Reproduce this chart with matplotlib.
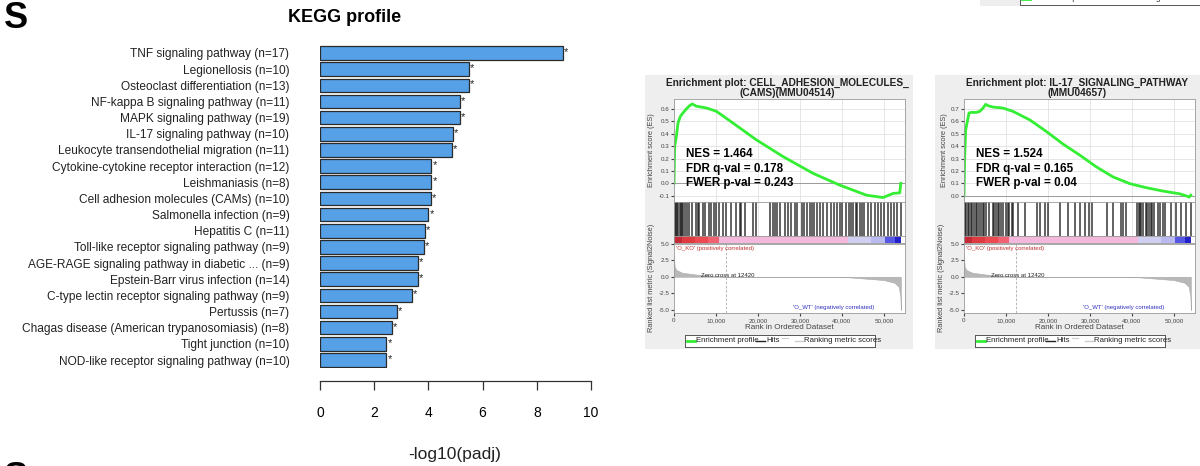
"""
KEGG profile bar chart plus two GSEA enrichment plots (panel S).
"""

import matplotlib
matplotlib.use('Agg')
import matplotlib.pyplot as plt
from matplotlib.patches import Rectangle

W, H = 1200, 466

# ---- KEGG profile data ----
pathways = [
    'TNF signaling pathway (n=17)',
    'Legionellosis (n=10)',
    'Osteoclast differentiation (n=13)',
    'NF-kappa B signaling pathway (n=11)',
    'MAPK signaling pathway (n=19)',
    'IL-17 signaling pathway (n=10)',
    'Leukocyte transendothelial migration (n=11)',
    'Cytokine-cytokine receptor interaction (n=12)',
    'Leishmaniasis (n=8)',
    'Cell adhesion molecules (CAMs) (n=10)',
    'Salmonella infection (n=9)',
    'Hepatitis C (n=11)',
    'Toll-like receptor signaling pathway (n=9)',
    'AGE-RAGE signaling pathway in diabetic ... (n=9)',
    'Epstein-Barr virus infection (n=14)',
    'C-type lectin receptor signaling pathway (n=9)',
    'Pertussis (n=7)',
    'Chagas disease (American trypanosomiasis) (n=8)',
    'Tight junction (n=10)',
    'NOD-like receptor signaling pathway (n=10)',
]
neglog_padj = [8.95, 5.49, 5.49, 5.15, 5.15, 4.90, 4.86, 4.11, 4.11, 4.08,
               4.00, 3.87, 3.84, 3.62, 3.60, 3.38, 2.84, 2.66, 2.45, 2.45]
kegg_ticks = [0, 2, 4, 6, 8, 10]

# ---- GSEA data: CAMs ----
cams_rank = [0, 160, 560, 950, 1510, 2140, 2940, 3730, 4370, 5320, 7700, 10080,
             14050, 19610, 25960, 33110, 39460, 45810, 49780, 52170, 53750, 54000]
cams_es = [0.0, 0.297, 0.378, 0.486, 0.54, 0.568, 0.6, 0.627, 0.64, 0.622, 0.608,
           0.581, 0.486, 0.351, 0.216, 0.081, -0.014, -0.095, -0.114, -0.081,
           -0.076, 0.0]
cams_hits = [240, 560, 800, 1040, 1360, 1600, 1840, 2160, 2650, 3210, 3610, 4250,
             5210, 5610, 6010, 6810, 7450, 8260, 8820, 9620, 10020, 10820, 11620,
             12420, 13630, 14830, 15630, 16030, 16830, 18840, 19480, 22840, 23480,
             24050, 24450, 25250, 26450, 27250, 27810, 28850, 29250, 30460, 30860,
             31660, 32300, 32860, 33260, 34060, 34700, 35500, 36470, 37270, 38070,
             38870, 39510, 40080, 40880, 41680, 42080, 42720, 43280, 43680, 44320,
             44880, 45290, 46090, 46890, 47850, 48490, 49290, 50090, 50890, 51700,
             52340, 53140, 53940]

# ---- GSEA data: IL-17 ----
il17_rank = [0, 160, 400, 710, 1190, 1750, 2940, 3730, 4530, 5160, 5720, 6910,
             9290, 11670, 15640, 19610, 23580, 27550, 31520, 35490, 39460, 43430,
             47400, 51370, 53120, 53600, 54000]
il17_es = [0.0, 0.31, 0.53, 0.585, 0.667, 0.672, 0.672, 0.68, 0.707, 0.737, 0.726,
           0.715, 0.707, 0.68, 0.612, 0.518, 0.417, 0.328, 0.233, 0.152, 0.098,
           0.065, 0.038, 0.016, -0.003, -0.011, 0.005]
il17_hits = [240, 560, 880, 1200, 1600, 2000, 2400, 2810, 3210, 3610, 4010, 4410,
             4810, 5210, 6010, 6810, 7210, 7610, 8020, 8420, 8820, 9380, 10020,
             10420, 10820, 11460, 11620, 12820, 14430, 17390, 18030, 19240, 20040,
             22840, 24850, 26450, 27650, 28850, 29650, 30460, 34060, 35510, 37270,
             37910, 38630, 41280, 41680, 41920, 42240, 42720, 43280, 43680, 44080,
             44480, 44880, 45290, 46090, 46730, 47290, 47850, 49290, 50490, 51700,
             52900, 53940]

# ranked list metric (shared by both plots)
metric_rank = [0, 150, 600, 2000, 5000, 9000, 12420, 41500, 45000, 50000, 52500,
               53500, 53900, 54000]
metric_val = [3.2, 1.5, 1.0, 0.6, 0.35, 0.15, 0.0, -0.08, -0.25, -0.5, -0.9,
              -1.5, -3.0, -5.0]

# heat bar segments
heat_edges = [0, 2000, 5000, 8000, 10800, 41500, 47000, 50300, 52500, 54000]
heat_colors = ['#c42a36', '#de3a40', '#ec4a50', '#f06272', '#f4b8dc', '#cfcff2',
               '#babaf0', '#5656e4', '#2222c8']

rank_ticks = [0, 10000, 20000, 30000, 40000, 50000]
rank_labels = ['0', '10,000', '20,000', '30,000', '40,000', '50,000']

plt.rcParams['font.family'] = ['Liberation Sans', 'DejaVu Sans']

fig = plt.figure(figsize=(W / 100, H / 100), dpi=100)


def px_axes(x0, y0, x1, y1, **kw):
    return fig.add_axes([x0 / W, 1 - y1 / H, (x1 - x0) / W, (y1 - y0) / H], **kw)


# =================== KEGG bar chart ===================
ax = px_axes(320, 44.9, 591, 368.1)
ypos = list(range(len(pathways)))
ax.barh(ypos, neglog_padj, height=0.84, color='#55a0e6', edgecolor='#2a2a2a',
        linewidth=0.9)
for y, v in zip(ypos, neglog_padj):
    ax.text(v + 0.04, y - 0.05, '*', ha='left', va='center', fontsize=8,
            color='#222222')
ax.set_xlim(0, 10)
ax.set_ylim(len(pathways) - 0.5, -0.5)
ax.set_yticks(ypos)
ax.set_yticklabels(pathways, fontsize=8.6, color='#222222')
ax.tick_params(axis='y', length=0, pad=22)
ax.set_xticks(kegg_ticks)
ax.set_xticklabels([str(t) for t in kegg_ticks], fontsize=12.5, color='#222222')
ax.tick_params(axis='x', length=6.5, width=0.9, color='#333333', pad=11)
for s in ['left', 'right', 'top']:
    ax.spines[s].set_visible(False)
ax.spines['bottom'].set_position(('outward', 9.5))
ax.spines['bottom'].set_bounds(0, 10)
ax.spines['bottom'].set_color('#333333')
ax.spines['bottom'].set_linewidth(0.9)
ax.set_facecolor('none')

fig.text(455 / W, 1 - 455 / H, '-log10(padj)', ha='center', va='center',
         fontsize=12.5, color='#222222')
fig.text(345 / W, 1 - 18 / H, 'KEGG profile', ha='center', va='center',
         fontsize=13, fontweight='bold')
fig.text(4 / W, 1 - 18 / H, 'S', ha='left', va='center', fontsize=26,
         fontweight='bold')
# cut-off panel letter at the bottom edge
fig.text(4 / W, 1 - 479 / H, 'S', ha='left', va='center', fontsize=26,
         fontweight='bold')


# =================== GSEA panels ===================
def draw_gsea(x0, frame_right, title1, title2, rank, es, hits, es_ylim, es_ticks,
              stats):
    frame = px_axes(x0 - 29, 75, frame_right, 349)
    frame.set_facecolor('#eeeeee')
    frame.set_xticks([])
    frame.set_yticks([])
    for s in frame.spines.values():
        s.set_visible(False)
    frame.set_zorder(-5)

    x1 = x0 + 231
    cx = (x0 + x1) / 2 - 2
    fig.text(cx / W, 1 - 82.5 / H, title1, ha='center', va='center', fontsize=7.3,
             fontweight='bold', color='#222222')
    fig.text(cx / W, 1 - 93.5 / H, title2, ha='center', va='center', fontsize=7.3,
             fontweight='bold', color='#222222')

    # enrichment score
    a1 = px_axes(x0, 99, x1, 202)
    a1.set_xlim(0, 55000)
    a1.set_ylim(*es_ylim)
    a1.set_xticks(rank_ticks)
    a1.set_yticks(es_ticks)
    a1.set_yticklabels(['%.1f' % t for t in es_ticks])
    a1.grid(True, color='#e2e2e2', linewidth=0.6)
    a1.set_axisbelow(True)
    a1.axhline(0, color='#9a9a9a', linewidth=0.7)
    a1.plot(rank, es, color='#33ee33', linewidth=2.0)
    a1.tick_params(axis='x', length=0, labelbottom=False)
    a1.tick_params(axis='y', length=2, labelsize=4.5, colors='#444444', pad=1.5)
    a1.set_ylabel('Enrichment score (ES)', fontsize=5.3, color='#444444',
                  labelpad=2)
    for k, line in enumerate(stats):
        a1.text(0.052, 0.47 - k * 0.145, line, transform=a1.transAxes,
                fontsize=8.4, fontweight='bold', va='center', ha='left')

    # hits
    a2 = px_axes(x0, 202, x1, 236)
    a2.set_xlim(0, 55000)
    a2.set_ylim(0, 1)
    a2.vlines(hits, 0, 1, color='#151515', linewidth=1.1, alpha=0.85)
    a2.set_xticks(rank_ticks)
    a2.grid(True, axis='x', color='#e2e2e2', linewidth=0.6)
    a2.set_axisbelow(True)
    a2.set_yticks([])
    a2.tick_params(axis='x', length=0, labelbottom=False)

    # heat bar
    a3 = px_axes(x0, 236, x1, 243.5)
    a3.set_xlim(0, 55000)
    a3.set_ylim(0, 1)
    widths = [b - a for a, b in zip(heat_edges[:-1], heat_edges[1:])]
    a3.barh(0.5, widths, left=heat_edges[:-1], height=1, color=heat_colors,
            linewidth=0)
    a3.set_xticks([])
    a3.set_yticks([])

    # ranked list metric
    a4 = px_axes(x0, 243.5, x1, 313)
    a4.set_xlim(0, 55000)
    a4.set_ylim(-5.45, 5.0)
    a4.fill_between(metric_rank, metric_val, 0, color='#b8b8b8', linewidth=0.4,
                    edgecolor='#aaaaaa')
    a4.axvline(12420, color='#aaaaaa', linewidth=0.6, linestyle=(0, (3, 2)))
    a4.set_xticks(rank_ticks)
    a4.set_xticklabels(rank_labels)
    a4.set_yticks([-5.0, -2.5, 0.0, 2.5, 5.0])
    a4.set_yticklabels(['-5.0', '-2.5', '0.0', '2.5', '5.0'])
    a4.tick_params(length=2, labelsize=4.5, colors='#444444', pad=1.5)
    a4.set_xlabel('Rank in Ordered Dataset', fontsize=5.8, color='#444444',
                  labelpad=1)
    a4.set_ylabel('Ranked list metric (Signal2Noise)', fontsize=5.3,
                  color='#444444', labelpad=2)
    a4.text(550, 4.3, "'O_KO' (positively correlated)", fontsize=4.3,
            color='#c03030', va='center')
    a4.text(6350, 0.15, 'Zero cross at 12420', fontsize=4.3, color='#222222',
            va='center')
    a4.text(28300, -4.62, "'O_WT' (negatively correlated)", fontsize=4.3,
            color='#3030c0', va='center')

    for a in (a1, a2, a3, a4):
        for s in a.spines.values():
            s.set_color('#9a9a9a')
            s.set_linewidth(0.6)

    # legend box
    lg = px_axes(x0 + 11, 335, x0 + 201, 347)
    lg.set_xlim(0, 190)
    lg.set_ylim(0, 1)
    lg.set_xticks([])
    lg.set_yticks([])
    for s in lg.spines.values():
        s.set_color('#555555')
        s.set_linewidth(0.7)
    lg.plot([2, 10], [0.5, 0.5], color='#33ee33', linewidth=2)
    lg.text(11, 0.5, 'Enrichment profile', fontsize=5.6, va='center',
            color='#222222')
    lg.plot([71, 80], [0.5, 0.5], color='#222222', linewidth=1)
    lg.text(81, 0.5, 'Hits', fontsize=5.6, va='center', color='#222222')
    lg.plot([97, 103], [0.75, 0.75], color='#cccccc', linewidth=0.8)
    lg.plot([110, 118], [0.5, 0.5], color='#cccccc', linewidth=1)
    lg.text(119, 0.5, 'Ranking metric scores', fontsize=5.6, va='center',
            color='#222222')


draw_gsea(674, 913, 'Enrichment plot: CELL_ADHESION_MOLECULES_',
          '(CAMS)(MMU04514)', cams_rank, cams_es, cams_hits, (-0.15, 0.68),
          [-0.1, 0.0, 0.1, 0.2, 0.3, 0.4, 0.5, 0.6],
          ['NES = 1.464', 'FDR q-val = 0.178', 'FWER p-val = 0.243'])
draw_gsea(964, 1200, 'Enrichment plot: IL-17_SIGNALING_PATHWAY', '(MMU04657)',
          il17_rank, il17_es, il17_hits, (-0.05, 0.78),
          [0.0, 0.1, 0.2, 0.3, 0.4, 0.5, 0.6, 0.7],
          ['NES = 1.524', 'FDR q-val = 0.165', 'FWER p-val = 0.04'])

# sliver of another panel's legend at the top right
top = px_axes(980, 0, 1200, 6)
top.set_facecolor('#eeeeee')
top.set_xlim(980, 1200)
top.set_ylim(6, 0)
top.set_xticks([])
top.set_yticks([])
for s in top.spines.values():
    s.set_visible(False)
top.add_patch(Rectangle((1020, -8), 200, 13, facecolor='white',
                        edgecolor='#555555', linewidth=0.7))
top.plot([1022, 1030], [-1, -1], color='#33ee33', linewidth=2)
top.text(1031, -1, 'Enrichment profile — Hits      Ranking metric scores',
         fontsize=5.6, va='center', color='#222222', clip_on=True)

fig.savefig('out.png', dpi=100)
